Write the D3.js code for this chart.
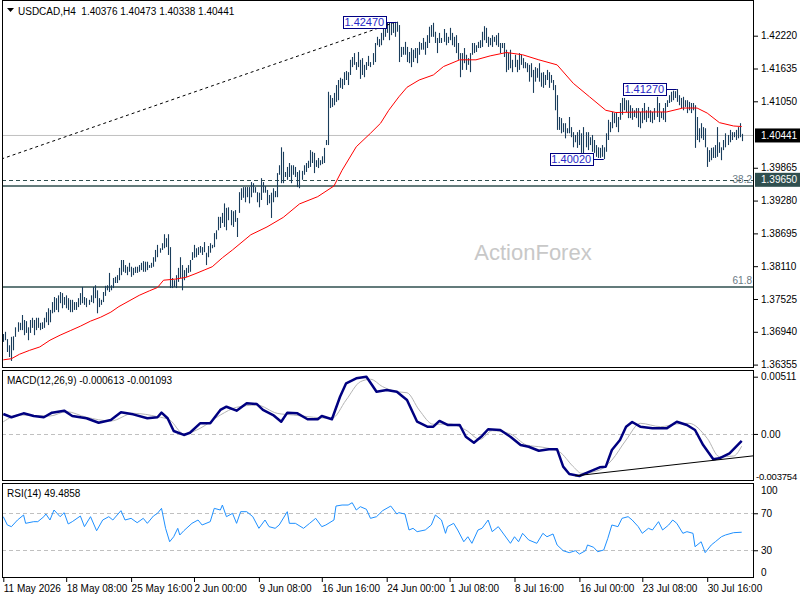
<!DOCTYPE html>
<html>
<head>
<meta charset="utf-8">
<script src="https://cdn.jsdelivr.net/npm/d3@7"></script>
<style>
  body { margin: 0; background: #fff; }
  svg { display: block; }
  text { font-family: "Liberation Sans", Arial, sans-serif; font-size: 10px; }
</style>
</head>
<body>
<div id="graph"></div>
<script>
// ---- data ----
const symbolTitle = "USDCAD,H4";
const lastOHLC = ["1.40376", "1.40473", "1.40338", "1.40441"];

// H4 bar highs / lows
const hi = [1.3690,1.3694,1.3681,1.3670,1.3685,1.3686,1.3702,1.3711,1.3710,1.3724,
1.3715,1.3713,1.3702,1.3715,1.3719,1.3715,1.3719,1.3719,1.3710,1.3711,
1.3719,1.3729,1.3736,1.3733,1.3747,1.3756,1.3754,1.3759,1.3765,1.3763,
1.3756,1.3759,1.3754,1.3751,1.3751,1.3747,1.3747,1.3754,1.3763,1.3774,
1.3756,1.3754,1.3751,1.3759,1.3774,1.3777,1.3768,1.3754,1.3751,1.3765,
1.3776,1.3777,1.3799,1.3777,1.3790,1.3792,1.3795,1.3808,1.3822,1.3822,
1.3813,1.3810,1.3817,1.3810,1.3808,1.3810,1.3810,1.3813,1.3817,1.3820,
1.3819,1.3819,1.3813,1.3817,1.3827,1.3840,1.3849,1.3843,1.3852,1.3868,
1.3861,1.3868,1.3845,1.3790,1.3786,1.3795,1.3808,1.3827,1.3813,1.3804,
1.3808,1.3813,1.3822,1.3836,1.3849,1.3843,1.3845,1.3847,1.3845,1.3854,
1.3835,1.3847,1.3852,1.3849,1.3870,1.3875,1.3899,1.3899,1.3906,1.3923,
1.3915,1.3916,1.3911,1.3909,1.3911,1.3897,1.3943,1.3950,1.3952,1.3952,
1.3952,1.3952,1.3961,1.3959,1.3952,1.3943,1.3942,1.3968,1.3961,1.3954,
1.3947,1.3938,1.3942,1.3950,1.3945,1.3977,1.3991,1.4023,1.4015,1.3979,
1.3988,1.3995,1.3991,1.3991,1.3988,1.3979,1.3982,1.3981,1.3991,1.3995,
1.3999,1.4018,1.4015,1.4013,1.4000,1.4004,1.4000,1.4007,1.4022,1.4036,
1.4122,1.4116,1.4111,1.4120,1.4134,1.4143,1.4147,1.4145,1.4157,1.4159,
1.4157,1.4179,1.4184,1.4191,1.4175,1.4193,1.4179,1.4182,1.4170,1.4175,
1.4186,1.4175,1.4191,1.4209,1.4220,1.4216,1.4227,1.4245,1.4246,1.4245,
1.4245,1.4246,1.4245,1.4245,1.4247,1.4241,1.4202,1.4202,1.4211,1.4202,
1.4193,1.4200,1.4197,1.4200,1.4200,1.4211,1.4209,1.4218,1.4211,1.4223,
1.4238,1.4241,1.4245,1.4229,1.4218,1.4227,1.4218,1.4234,1.4227,1.4220,
1.4236,1.4227,1.4220,1.4223,1.4209,1.4191,1.4191,1.4200,1.4188,1.4182,
1.4191,1.4209,1.4209,1.4205,1.4211,1.4214,1.4229,1.4239,1.4236,1.4220,
1.4218,1.4223,1.4220,1.4223,1.4227,1.4209,1.4209,1.4209,1.4197,1.4191,
1.4197,1.4179,1.4188,1.4179,1.4191,1.4188,1.4182,1.4175,1.4173,1.4170,
1.4173,1.4161,1.4166,1.4164,1.4173,1.4156,1.4157,1.4152,1.4161,1.4157,
1.4152,1.4143,1.4134,1.4116,1.4077,1.4075,1.4066,1.4066,1.4057,1.4077,
1.4059,1.4050,1.4045,1.4050,1.4054,1.4048,1.4059,1.4050,1.4050,1.4041,
1.4045,1.4036,1.4027,1.4023,1.4022,1.4027,1.4023,1.4048,1.4072,1.4068,
1.4086,1.4084,1.4086,1.4077,1.4102,1.4111,1.4111,1.4107,1.4107,1.4098,
1.4093,1.4089,1.4093,1.4093,1.4086,1.4093,1.4102,1.4089,1.4095,1.4089,
1.4086,1.4093,1.4113,1.4102,1.4086,1.4093,1.4102,1.4107,1.4116,1.4122,
1.4124,1.4123,1.4127,1.4116,1.4111,1.4113,1.4107,1.4107,1.4104,1.4102,
1.4102,1.4098,1.4077,1.4057,1.4066,1.4059,1.4057,1.4023,1.4018,1.4022,
1.4023,1.4027,1.4059,1.4032,1.4023,1.4036,1.4048,1.4045,1.4054,1.4050,
1.4050,1.4054,1.4059,1.4066,1.4047];

const lo = [1.3676,1.3679,1.3658,1.3649,1.3642,1.3661,1.3685,1.3694,1.3697,1.3697,
1.3688,1.3692,1.3679,1.3692,1.3701,1.3688,1.3697,1.3701,1.3697,1.3699,
1.3701,1.3711,1.3706,1.3711,1.3727,1.3729,1.3733,1.3729,1.3745,1.3736,
1.3742,1.3736,1.3733,1.3729,1.3729,1.3733,1.3733,1.3738,1.3742,1.3745,
1.3742,1.3738,1.3742,1.3747,1.3745,1.3754,1.3727,1.3738,1.3742,1.3747,
1.3758,1.3768,1.3765,1.3768,1.3772,1.3781,1.3781,1.3786,1.3795,1.3801,
1.3799,1.3795,1.3801,1.3792,1.3795,1.3799,1.3799,1.3801,1.3804,1.3801,
1.3801,1.3804,1.3808,1.3808,1.3810,1.3819,1.3827,1.3835,1.3840,1.3843,
1.3845,1.3831,1.3772,1.3772,1.3774,1.3772,1.3783,1.3790,1.3768,1.3786,
1.3792,1.3799,1.3801,1.3822,1.3826,1.3827,1.3831,1.3835,1.3831,1.3836,
1.3813,1.3827,1.3835,1.3843,1.3845,1.3859,1.3875,1.3879,1.3888,1.3881,
1.3875,1.3893,1.3884,1.3881,1.3890,1.3863,1.3906,1.3929,1.3933,1.3925,
1.3934,1.3923,1.3934,1.3942,1.3942,1.3925,1.3916,1.3929,1.3942,1.3942,
1.3920,1.3923,1.3897,1.3925,1.3934,1.3934,1.3974,1.3959,1.3959,1.3970,
1.3965,1.3970,1.3959,1.3974,1.3970,1.3952,1.3950,1.3965,1.3974,1.3979,
1.3986,1.3988,1.3995,1.3977,1.3988,1.3986,1.3991,1.3993,1.3995,1.4027,
1.4027,1.4093,1.4095,1.4098,1.4104,1.4107,1.4129,1.4127,1.4134,1.4143,
1.4134,1.4152,1.4166,1.4170,1.4161,1.4166,1.4145,1.4152,1.4148,1.4161,
1.4168,1.4166,1.4170,1.4175,1.4205,1.4202,1.4205,1.4214,1.4220,1.4227,
1.4214,1.4223,1.4227,1.4220,1.4229,1.4175,1.4184,1.4188,1.4188,1.4175,
1.4173,1.4166,1.4175,1.4182,1.4173,1.4188,1.4197,1.4197,1.4188,1.4200,
1.4209,1.4220,1.4220,1.4209,1.4191,1.4209,1.4209,1.4211,1.4205,1.4209,
1.4214,1.4205,1.4202,1.4191,1.4179,1.4148,1.4161,1.4173,1.4161,1.4170,
1.4157,1.4188,1.4191,1.4193,1.4200,1.4200,1.4202,1.4214,1.4209,1.4202,
1.4205,1.4202,1.4211,1.4205,1.4202,1.4191,1.4200,1.4184,1.4157,1.4161,
1.4164,1.4157,1.4166,1.4157,1.4161,1.4170,1.4164,1.4164,1.4157,1.4140,
1.4148,1.4120,1.4140,1.4147,1.4140,1.4131,1.4129,1.4134,1.4143,1.4129,
1.4138,1.4125,1.4089,1.4054,1.4054,1.4048,1.4050,1.4039,1.4048,1.4048,
1.4041,1.4023,1.4032,1.4022,1.4027,1.4013,1.4004,1.4023,1.4018,1.4027,
1.4015,1.4013,1.4006,1.4004,1.4004,1.4006,1.4002,1.4015,1.4036,1.4050,
1.4057,1.4066,1.4059,1.4050,1.4072,1.4081,1.4089,1.4086,1.4075,1.4075,
1.4072,1.4077,1.4075,1.4059,1.4057,1.4066,1.4072,1.4068,1.4075,1.4068,
1.4066,1.4072,1.4077,1.4068,1.4075,1.4072,1.4068,1.4095,1.4102,1.4104,
1.4107,1.4111,1.4104,1.4098,1.4093,1.4089,1.4095,1.4084,1.4089,1.4084,
1.4089,1.4022,1.4036,1.4032,1.4039,1.4036,1.4023,1.3988,1.3997,1.4000,
1.4004,1.4004,1.4006,1.4013,1.4000,1.4018,1.4023,1.4027,1.4032,1.4036,
1.4041,1.4036,1.4039,1.4041,1.4034];

// red moving average [bar, price]
const maPts = [[0,1.3644],[4,1.3646],[8,1.3654],[13,1.3661],[18,1.3667],[23,1.3679],[28,1.3688],
[33,1.3696],[38,1.3704],[43,1.3713],[48,1.3720],[53,1.3729],[57,1.3739],[62,1.3749],[67,1.3759],
[72,1.3767],[76,1.3773],[79,1.3786],[85,1.3788],[90,1.3791],[95,1.3798],[99,1.3804],[103,1.3810],
[108,1.3826],[113,1.3840],[122,1.3867],[130,1.3881],[138,1.3898],[146,1.3922],[155,1.3935],
[163,1.3954],[167,1.3982],[174,1.4024],[181,1.4048],[186,1.4066],[190,1.4089],[195,1.4113],
[199,1.4130],[205,1.4143],[212,1.4152],[217,1.4167],[225,1.4179],[233,1.4179],[240,1.4186],
[248,1.4192],[256,1.4188],[264,1.4179],[273,1.4170],[281,1.4137],[289,1.4113],[297,1.4089],
[302,1.4085],[314,1.4086],[327,1.4086],[335,1.4093],[342,1.4093],[347,1.4084],[353,1.4067],
[360,1.4061],[364,1.4060]];

// MACD(12,26,9) main and signal [bar, value]
const macdPts = [[0,0.00178],[4,0.00149],[10,0.00184],[15,0.00160],[20,0.00149],[24,0.00190],
[30,0.00208],[34,0.00160],[41,0.00140],[47,0.00100],[53,0.00125],[58,0.00193],[64,0.00175],
[71,0.00140],[76,0.00149],[78,0.00190],[81,0.00140],[84,0.00026],[89,-0.00009],[92,0.00011],
[97,0.00095],[102,0.00095],[107,0.00214],[110,0.00243],[115,0.00208],[120,0.00274],[125,0.00267],
[128,0.00214],[133,0.00169],[137,0.00109],[140,0.00190],[145,0.00184],[150,0.00131],[155,0.00131],
[157,0.00160],[162,0.00131],[166,0.00332],[169,0.00452],[174,0.00497],[179,0.00511],[184,0.00377],
[189,0.00392],[194,0.00377],[199,0.00303],[204,0.00109],[209,0.00065],[212,0.00065],[215,0.00116],
[219,0.00080],[225,0.00080],[228,-0.00025],[232,-0.00078],[236,-0.00018],[239,0.00042],[245,0.00035],
[250,-0.00025],[255,-0.00099],[259,-0.00114],[264,-0.00150],[269,-0.00137],[273,-0.00137],
[276,-0.00292],[279,-0.00357],[284,-0.003754],[289,-0.00337],[294,-0.00298],[297,-0.00292],
[300,-0.00143],[304,-0.00054],[307,0.00065],[310,0.00107],[314,0.00065],[320,0.00050],[327,0.00050],
[332,0.00109],[337,0.00080],[341,0.00035],[345,-0.00099],[350,-0.00226],[353,-0.00217],
[358,-0.00173],[364,-0.000613]];

const signalPts = [[0,0.00109],[8,0.00169],[23,0.00160],[31,0.00199],[41,0.00149],[53,0.00116],
[64,0.00184],[76,0.00154],[82,0.00125],[89,0.00000],[97,0.00050],[107,0.00169],[115,0.00238],
[125,0.00258],[135,0.00184],[143,0.00169],[153,0.00149],[162,0.00140],[169,0.00303],[176,0.00466],
[181,0.00488],[187,0.00422],[194,0.00377],[199,0.00368],[205,0.00214],[212,0.00086],[220,0.00089],
[228,0.00035],[235,-0.00048],[241,0.00029],[250,0.00000],[258,-0.00099],[266,-0.00119],
[274,-0.00158],[281,-0.00292],[285,-0.00351],[294,-0.00322],[300,-0.00233],[307,-0.00054],
[314,0.00095],[324,0.00065],[332,0.00089],[338,0.00095],[347,-0.00039],[353,-0.00203],
[360,-0.00197],[364,-0.001093]];

// RSI(14) [bar, value]
const rsiPts = [[0,66.3],[2,57.3],[4,55.5],[7,62.7],[10,68.1],[11,59.1],[15,60.9],[17,60.9],[20,66.3],
[21,69.2],[23,62.7],[25,73.5],[28,66.3],[30,70.6],[32,58.4],[34,60.9],[38,67.0],[40,55.5],[43,66.3],
[46,51.1],[49,62.7],[52,66.3],[54,62.7],[58,72.8],[60,62.7],[63,64.5],[66,59.8],[69,64.5],[71,59.1],
[74,67.0],[76,69.9],[78,75.3],[80,53.7],[82,39.2],[84,44.6],[86,53.7],[87,46.5],[89,51.1],[93,59.1],
[96,62.7],[98,57.3],[102,60.9],[104,75.3],[107,73.5],[108,78.9],[110,66.3],[113,69.9],[115,59.1],
[117,71.7],[120,71.7],[123,66.3],[126,53.7],[129,62.7],[131,55.5],[134,53.7],[136,57.3],[140,71.7],
[141,59.1],[144,59.1],[148,53.7],[151,59.1],[154,64.5],[157,55.5],[159,57.3],[163,62.7],[164,77.8],
[167,78.9],[170,78.9],[172,81.4],[174,73.5],[176,77.1],[179,74.3],[181,64.5],[184,66.3],[187,72.8],
[191,77.8],[194,69.2],[195,70.6],[198,69.2],[200,51.9],[202,53.7],[204,50.1],[208,51.9],[211,57.3],
[213,68.1],[216,62.7],[218,48.3],[219,55.5],[222,59.1],[224,51.9],[227,39.2],[229,44.6],[231,37.5],
[234,51.9],[236,53.7],[239,62.7],[241,50.1],[244,55.5],[247,46.5],[250,37.5],[252,44.6],[254,39.2],
[256,48.3],[259,41.1],[263,37.5],[266,48.3],[268,44.6],[271,47.6],[273,35.7],[276,29.5],[279,27.4],
[282,29.5],[284,25.9],[287,29.5],[288,35.7],[291,33.2],[293,28.4],[296,30.3],[298,42.9],[300,57.3],
[303,55.5],[305,64.5],[308,66.3],[310,62.7],[313,55.5],[315,48.3],[318,53.7],[320,51.9],[323,60.9],
[325,51.9],[328,57.3],[330,62.7],[332,59.1],[335,48.3],[337,50.1],[340,48.3],[341,33.8],[344,39.2],
[346,27.4],[349,35.7],[351,39.2],[354,44.6],[356,46.5],[360,49.0],[364,49.4858]];

// axis ticks and labels
const priceTicks = [1.42220, 1.41635, 1.41050, 1.39865, 1.39280, 1.38695, 1.38110, 1.37525, 1.36940, 1.36355];
const macdTicks = [0.00511, 0, -0.003754];
const macdTickLabels = ["0.00511", "0.00", "-0.003754"];
const rsiTicks = [100, 70, 30, 0];
const rsiLevels = [70, 30];
const xLabelIdx = [0, 31, 63, 94, 126, 157, 189, 220, 252, 284, 315, 347];
const xLabelText = ["11 May 2026", "18 May 08:00", "25 May 16:00", "2 Jun 00:00", "9 Jun 08:00",
  "16 Jun 16:00", "24 Jun 00:00", "1 Jul 08:00", "8 Jul 16:00", "16 Jul 00:00", "23 Jul 08:00", "30 Jul 16:00"];

// levels and drawings
const bidPrice = 1.40441;
const supportPrice = 1.39650;
const fibLabels = ["38.2", "61.8"];
const fibPrices = [1.3954, 1.3774];
const markIdx = [194, 332, 296];
const markPrice = [1.42470, 1.41270, 1.40020];
const trendIdx = [-1, 194];
const trendPrice = [1.4002, 1.4247];
const macdTrendIdx = [282, 370];
const macdTrendVal = [-0.00374, -0.00195];

// ---- layout ----
const W = 800, H = 600;
const L = 2, R = 754;
const mainTop = 0, mainBot = 368;
const macdTop = 370, macdBot = 481;
const rsiTop = 483, rsiBot = 578;
const barColor = "#1a3d5c";
const axisFont = '"Liberation Sans", Arial, sans-serif';

const svg = d3.select("#graph").append("svg")
  .attr("width", W).attr("height", H);

const x = d3.scaleLinear().domain([0, hi.length - 1]).range([3.3, 741.7]);
const yMain = d3.scaleLinear().domain([1.36355, 1.42220]).range([364.6, 35.7]);
const yMacd = d3.scaleLinear().domain([-0.003754, 0.00511]).range([476, 376.7]);
const yRsi = d3.scaleLinear().domain([0, 100]).range([578, 485.5]);

function clip(id, top, bot) {
  svg.append("clipPath").attr("id", id)
    .append("rect").attr("x", L).attr("y", top).attr("width", R - L).attr("height", bot - top);
  return svg.append("g").attr("clip-path", "url(#" + id + ")");
}

// ---- main panel ----
const gm = clip("cm", mainTop, mainBot);

gm.append("text")
  .attr("x", 533).attr("y", 260).attr("text-anchor", "middle")
  .style("font-size", "22px").attr("fill", "#c8c8c8")
  .text("ActionForex");

gm.append("line")
  .attr("x1", L).attr("x2", R).attr("y1", yMain(bidPrice)).attr("y2", yMain(bidPrice))
  .attr("stroke", "#c0c0c0");

gm.append("line")
  .attr("x1", L).attr("x2", R).attr("y1", Math.round(yMain(supportPrice)) + 0.5).attr("y2", Math.round(yMain(supportPrice)) + 0.5)
  .attr("stroke", "#2f4f4f").attr("stroke-dasharray", "4,3");

fibPrices.forEach(function (p, i) {
  gm.append("line")
    .attr("x1", L).attr("x2", R).attr("y1", yMain(p)).attr("y2", yMain(p))
    .attr("stroke", "#2f4f4f").attr("stroke-width", 1.5);
  gm.append("text")
    .attr("x", 752).attr("y", yMain(p) - 3).attr("text-anchor", "end")
    .attr("fill", "#6a7a84").text(fibLabels[i]);
});

// bars (high-low)
gm.append("g").selectAll("line")
  .data(hi)
  .join("line")
    .attr("x1", (d, i) => Math.round(x(i)) + 0.5)
    .attr("x2", (d, i) => Math.round(x(i)) + 0.5)
    .attr("y1", d => yMain(d))
    .attr("y2", (d, i) => Math.max(yMain(lo[i]), yMain(d) + 2))
    .attr("stroke", barColor)
    .attr("stroke-width", 1.1);

gm.append("path")
  .datum(maPts)
  .attr("d", d3.line().x(d => x(d[0])).y(d => yMain(d[1])))
  .attr("fill", "none").attr("stroke", "#ff0000").attr("stroke-width", 1);

gm.append("line")
  .attr("x1", x(trendIdx[0])).attr("y1", yMain(trendPrice[0]))
  .attr("x2", x(trendIdx[1])).attr("y2", yMain(trendPrice[1]))
  .attr("stroke", "#000").attr("stroke-dasharray", "3,3");

// price markers
markIdx.forEach(function (idx, i) {
  const bx = x(idx), by = yMain(markPrice[i]);
  const right = bx - 11, w = 43, h = 12;
  gm.append("line")
    .attr("x1", right).attr("x2", bx).attr("y1", Math.round(by) + 0.5).attr("y2", Math.round(by) + 0.5)
    .attr("stroke", "#000080");
  gm.append("rect")
    .attr("x", Math.round(right - w) + 0.5).attr("y", Math.round(by - h / 2) + 0.5)
    .attr("width", w).attr("height", h)
    .attr("fill", "#fff").attr("stroke", "#000080");
  gm.append("text")
    .attr("x", right - w / 2).attr("y", by + 4).attr("text-anchor", "middle")
    .style("font-size", "11px").attr("fill", "#2828c8")
    .text(markPrice[i].toFixed(5));
});

// header
svg.append("path").attr("d", "M7,8 L14,8 L10.5,12 Z").attr("fill", "#000");
svg.append("text")
  .attr("x", 18).attr("y", 15).style("white-space", "pre").attr("fill", "#000")
  .text(symbolTitle + "  " + lastOHLC.join(" "));

// price axis
const ay = svg.append("g").attr("transform", "translate(" + R + ",0)")
  .call(d3.axisRight(yMain).tickValues(priceTicks).tickSize(4).tickFormat(d3.format(".5f")));
ay.select(".domain").remove();
ay.selectAll("text").style("font-family", axisFont).style("font-size", "10px");

function priceTag(p, fill) {
  svg.append("rect").attr("x", R + 1).attr("y", yMain(p) - 7).attr("width", W - R - 1).attr("height", 14)
    .attr("fill", fill);
  svg.append("text").attr("x", R + 7).attr("y", yMain(p) + 3.5).attr("fill", "#fff").text(p.toFixed(5));
}
priceTag(bidPrice, "#000");
priceTag(supportPrice, "#2f4f4f");

// ---- MACD panel ----
const gd = clip("cd", macdTop, macdBot);
gd.append("line")
  .attr("x1", L).attr("x2", R).attr("y1", Math.round(yMacd(0)) + 0.5).attr("y2", Math.round(yMacd(0)) + 0.5)
  .attr("stroke", "#c0c0c0").attr("stroke-dasharray", "4,3");
gd.append("path")
  .datum(signalPts)
  .attr("d", d3.line().curve(d3.curveMonotoneX).x(d => x(d[0])).y(d => yMacd(d[1])))
  .attr("fill", "none").attr("stroke", "#b4b4b4").attr("stroke-width", 1);
gd.append("path")
  .datum(macdPts)
  .attr("d", d3.line().x(d => x(d[0])).y(d => yMacd(d[1])))
  .attr("fill", "none").attr("stroke", "#000080").attr("stroke-width", 2.5).attr("stroke-linejoin", "round");
gd.append("line")
  .attr("x1", x(macdTrendIdx[0])).attr("y1", yMacd(macdTrendVal[0]))
  .attr("x2", x(macdTrendIdx[1])).attr("y2", yMacd(macdTrendVal[1]))
  .attr("stroke", "#000");

svg.append("text").attr("x", 7).attr("y", 384).style("white-space", "pre")
  .text("MACD(12,26,9) " + macdPts[macdPts.length - 1][1].toFixed(6) + " " + signalPts[signalPts.length - 1][1].toFixed(6));

const ad = svg.append("g").attr("transform", "translate(" + R + ",0)")
  .call(d3.axisRight(yMacd).tickValues(macdTicks).tickSize(4).tickFormat((d, i) => macdTickLabels[i]));
ad.select(".domain").remove();
ad.selectAll("text").style("font-family", axisFont).style("font-size", "10px");
// the long negative label starts right at the axis so it fits the window
ad.selectAll(".tick").filter(d => d < 0).select("text")
  .attr("x", 2).style("font-size", "9.5px").style("letter-spacing", "-0.2px");
ad.selectAll(".tick").filter(d => d < 0).select("line").remove();

// ---- RSI panel ----
const gr = clip("cr", rsiTop, rsiBot);
rsiLevels.forEach(function (v) {
  gr.append("line")
    .attr("x1", L).attr("x2", R).attr("y1", Math.round(yRsi(v)) + 0.5).attr("y2", Math.round(yRsi(v)) + 0.5)
    .attr("stroke", "#c0c0c0").attr("stroke-dasharray", "4,3");
});
gr.append("path")
  .datum(rsiPts)
  .attr("d", d3.line().x(d => x(d[0])).y(d => yRsi(d[1])))
  .attr("fill", "none").attr("stroke", "#1e90ff").attr("stroke-width", 1);

svg.append("text").attr("x", 7).attr("y", 497)
  .text("RSI(14) " + rsiPts[rsiPts.length - 1][1].toFixed(4));

const ar = svg.append("g").attr("transform", "translate(" + R + ",0)")
  .call(d3.axisRight(yRsi).tickValues(rsiTicks).tickSize(4));
ar.select(".domain").remove();
ar.selectAll("text").style("font-family", axisFont).style("font-size", "10px");
// extreme labels sit inside the panel, as in the terminal
ar.selectAll(".tick").filter(d => d === 100).select("text").attr("y", 5);
ar.selectAll(".tick").filter(d => d === 0).select("text").attr("y", -6);
ar.selectAll(".tick").filter(d => d === 100 || d === 0).select("line").remove();

// ---- time axis ----
const ax = svg.append("g").attr("transform", "translate(0," + rsiBot + ")")
  .call(d3.axisBottom(x).tickValues(xLabelIdx).tickSize(4).tickFormat((d, i) => xLabelText[i]));
ax.select(".domain").remove();
ax.selectAll("text")
  .attr("text-anchor", "start").attr("x", 0)
  .style("font-family", axisFont).style("font-size", "10px");

// ---- frames ----
[[mainTop, mainBot], [macdTop, macdBot], [rsiTop, rsiBot]].forEach(function (p) {
  svg.append("rect")
    .attr("x", L + 0.5).attr("y", p[0] + 0.5)
    .attr("width", R - L - 1).attr("height", p[1] - p[0] - 1)
    .attr("fill", "none").attr("stroke", "#000");
});
</script>
</body>
</html>
